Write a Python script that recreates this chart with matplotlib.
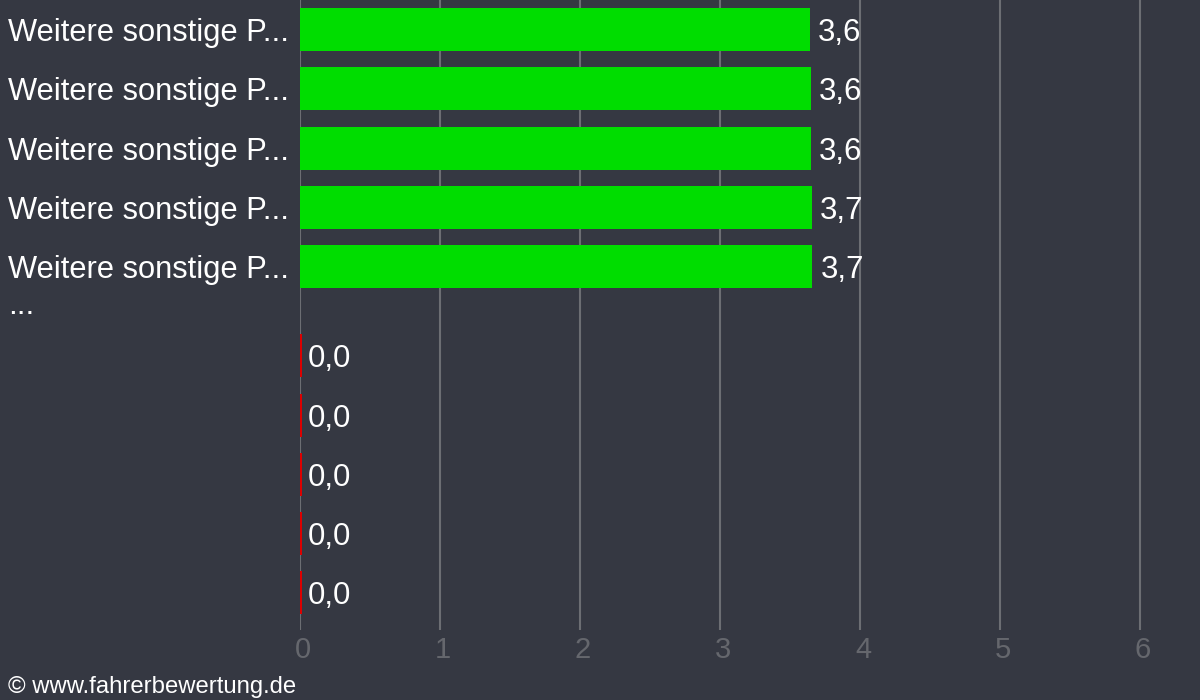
import matplotlib
matplotlib.use("Agg")
import matplotlib.pyplot as plt
from matplotlib.transforms import ScaledTranslation

# Data
labels = ["Weitere sonstige P..."] * 5 + [""] * 5
values = [3.643, 3.65, 3.65, 3.657, 3.66, 0.0, 0.0, 0.0, 0.0, 0.0]
value_texts = ["3,6", "3,6", "3,6", "3,7", "3,7", "0,0", "0,0", "0,0", "0,0", "0,0"]
positions = [0, 1, 2, 3, 4, 5.5, 6.5, 7.5, 8.5, 9.5]
colors = ["#00dd00"] * 5 + ["#dd0000"] * 5
x_ticks = [0, 1, 2, 3, 4, 5, 6]

BG = "#353842"
plt.rcParams["font.family"] = ["Liberation Sans", "DejaVu Sans"]

fig = plt.figure(figsize=(12, 7), dpi=100, facecolor=BG)
ax = fig.add_axes([0.25, 0.1, 0.75, 0.9], facecolor=BG)

# zero-valued bars still get a thin visible sliver
widths = [v if v > 0 else 0.012 for v in values]
ax.barh(positions, widths, height=0.725, color=colors, zorder=3)

ax.set_xlim(0, 900 / 140)
ax.set_ylim(10.124, -0.497)
ax.set_xticks(x_ticks)
ax.set_xticklabels([str(t) for t in x_ticks], fontsize=21, color="#65676d")
ax.tick_params(axis="x", length=0, pad=4)
shift = ScaledTranslation(3 / 100, 0, fig.dpi_scale_trans)
for t in ax.get_xticklabels():
    t.set_transform(t.get_transform() + shift)
ax.set_yticks([])
ax.grid(axis="x", color="#6c6e73", linewidth=1.5, zorder=1)
for s in ax.spines.values():
    s.set_visible(False)

# nudge row texts down a little so the caps sit centred on the bars
down = ScaledTranslation(0, -3.5 / 100, fig.dpi_scale_trans)

# category labels on the left, left aligned
ytrans = ax.get_yaxis_transform() + down
for pos, lab in zip(positions, labels):
    if lab:
        ax.text(-292 / 900, pos, lab, transform=ytrans, ha="left", va="center",
                fontsize=22.2, color="white", clip_on=False)
ax.text(-292 / 900, 4.6, "...", transform=ytrans, ha="left", va="center",
        fontsize=22.2, color="white", clip_on=False)

# value labels next to each bar
for pos, v, txt in zip(positions, values, value_texts):
    ax.annotate(txt, (v, pos), xytext=(5.8, -2.5), textcoords="offset points",
                ha="left", va="center", fontsize=22.5, color="white", zorder=4)

fig.text(8 / 1200, 1 - 687 / 700, "© www.fahrerbewertung.de", ha="left", va="center",
         fontsize=17.2, color="white")

fig.savefig("out.png", dpi=100, facecolor=BG)
